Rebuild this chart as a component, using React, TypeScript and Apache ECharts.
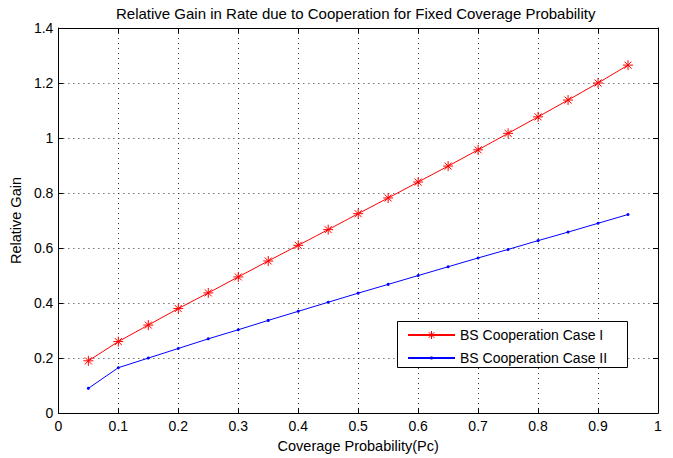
import React, { useEffect, useRef } from "react";
import * as echarts from "echarts";

const xValues = [0.05, 0.1, 0.15, 0.2, 0.25, 0.3, 0.35, 0.4, 0.45, 0.5, 0.55, 0.6, 0.65, 0.7, 0.75, 0.8, 0.85, 0.9, 0.95];
const caseI = [0.19, 0.26, 0.32, 0.38, 0.437, 0.495, 0.553, 0.61, 0.667, 0.725, 0.782, 0.84, 0.898, 0.957, 1.017, 1.077, 1.138, 1.2, 1.265];
const caseII = [0.09, 0.165, 0.2, 0.235, 0.27, 0.303, 0.337, 0.37, 0.403, 0.436, 0.468, 0.5, 0.532, 0.564, 0.595, 0.627, 0.658, 0.69, 0.722];
const seriesNames = ["BS Cooperation Case I", "BS Cooperation Case II"];
const titleText = "Relative Gain in Rate due to Cooperation for Fixed Coverage Probability";
const xName = "Coverage Probability(Pc)";
const yName = "Relative Gain";

const FONT = "'Liberation Sans', Arial, Helvetica, sans-serif";
const asterisk = "path://M5 0 L5 10 M0 5 L10 5 M1.5 1.5 L8.5 8.5 M1.5 8.5 L8.5 1.5";

export default function App() {
  const ref = useRef<HTMLDivElement>(null);
  useEffect(() => {
    if (!ref.current) return;
    const chart = echarts.init(ref.current, undefined, { renderer: "svg" });
    const axisText = { color: "#000", fontFamily: FONT, fontSize: 14 };
    const baseX = {
      type: "value" as const,
      min: 0,
      max: 1,
      interval: 0.1,
      axisLine: { show: true, onZero: false, lineStyle: { color: "#000", width: 1 } },
      axisTick: { show: true, inside: true, length: 5, lineStyle: { color: "#000" } },
    };
    const baseY = {
      type: "value" as const,
      min: 0,
      max: 1.4,
      interval: 0.2,
      axisLine: { show: true, onZero: false, lineStyle: { color: "#000", width: 1 } },
      axisTick: { show: true, inside: true, length: 5, lineStyle: { color: "#000" } },
    };
    const legendCommon = {
      orient: "horizontal" as const,
      left: 407,
      padding: 0,
      itemWidth: 47,
      z: 10,
      textStyle: { color: "#000", fontFamily: FONT, fontSize: 14 },
    };
    chart.setOption({
      animation: false,
      backgroundColor: "#fff",
      textStyle: { fontFamily: FONT },
      title: {
        text: titleText,
        left: 116,
        top: 6,
        padding: 0,
        textStyle: { fontSize: 15, fontWeight: "normal", color: "#000", fontFamily: FONT },
      },
      grid: { left: 58, right: 15, top: 28, bottom: 40 },
      graphic: [
        {
          type: "rect",
          z: 8,
          shape: { x: 397.5, y: 321.5, width: 230, height: 46 },
          style: { fill: "#fff", stroke: "#000", lineWidth: 1 },
        },
      ],
      legend: [
        { ...legendCommon, top: 328, itemHeight: 10, data: [seriesNames[0]], itemStyle: { borderWidth: 1 } },
        { ...legendCommon, top: 351, itemHeight: 4, data: [seriesNames[1]] },
      ],
      xAxis: [
        {
          ...baseX,
          position: "bottom",
          name: xName,
          nameLocation: "middle",
          nameGap: 22,
          nameTextStyle: { ...axisText, fontSize: 14.5 },
          axisLabel: { ...axisText, margin: 6 },
          splitLine: { show: true, lineStyle: { color: "#333", type: [1, 4], width: 1 } },
        },
        {
          ...baseX,
          position: "top",
          axisLabel: { show: false },
          splitLine: { show: false },
        },
      ],
      yAxis: [
        {
          ...baseY,
          position: "left",
          name: yName,
          nameLocation: "middle",
          nameGap: 33,
          nameTextStyle: { ...axisText, fontSize: 14.5 },
          axisLabel: { ...axisText, margin: 5 },
          splitLine: { show: true, lineStyle: { color: "#333", type: [1, 4], width: 1 } },
        },
        {
          ...baseY,
          position: "right",
          axisLabel: { show: false },
          splitLine: { show: false },
        },
      ],
      series: [
        {
          name: seriesNames[0],
          type: "line",
          data: xValues.map((x, i) => [x, caseI[i]]),
          lineStyle: { color: "#ff0000", width: 1 },
          itemStyle: { color: "#ff0000", borderColor: "#ff0000", borderWidth: 1 },
          symbol: asterisk,
          symbolSize: 10,
          showAllSymbol: true,
        },
        {
          name: seriesNames[1],
          type: "line",
          data: xValues.map((x, i) => [x, caseII[i]]),
          lineStyle: { color: "#0000ff", width: 1 },
          itemStyle: { color: "#0000ff" },
          symbol: "circle",
          symbolSize: 3,
          showAllSymbol: true,
        },
      ],
    });
    return () => chart.dispose();
  }, []);
  return <div ref={ref} style={{ position: "fixed", left: 0, top: 0, width: 673, height: 458 }} />;
}
